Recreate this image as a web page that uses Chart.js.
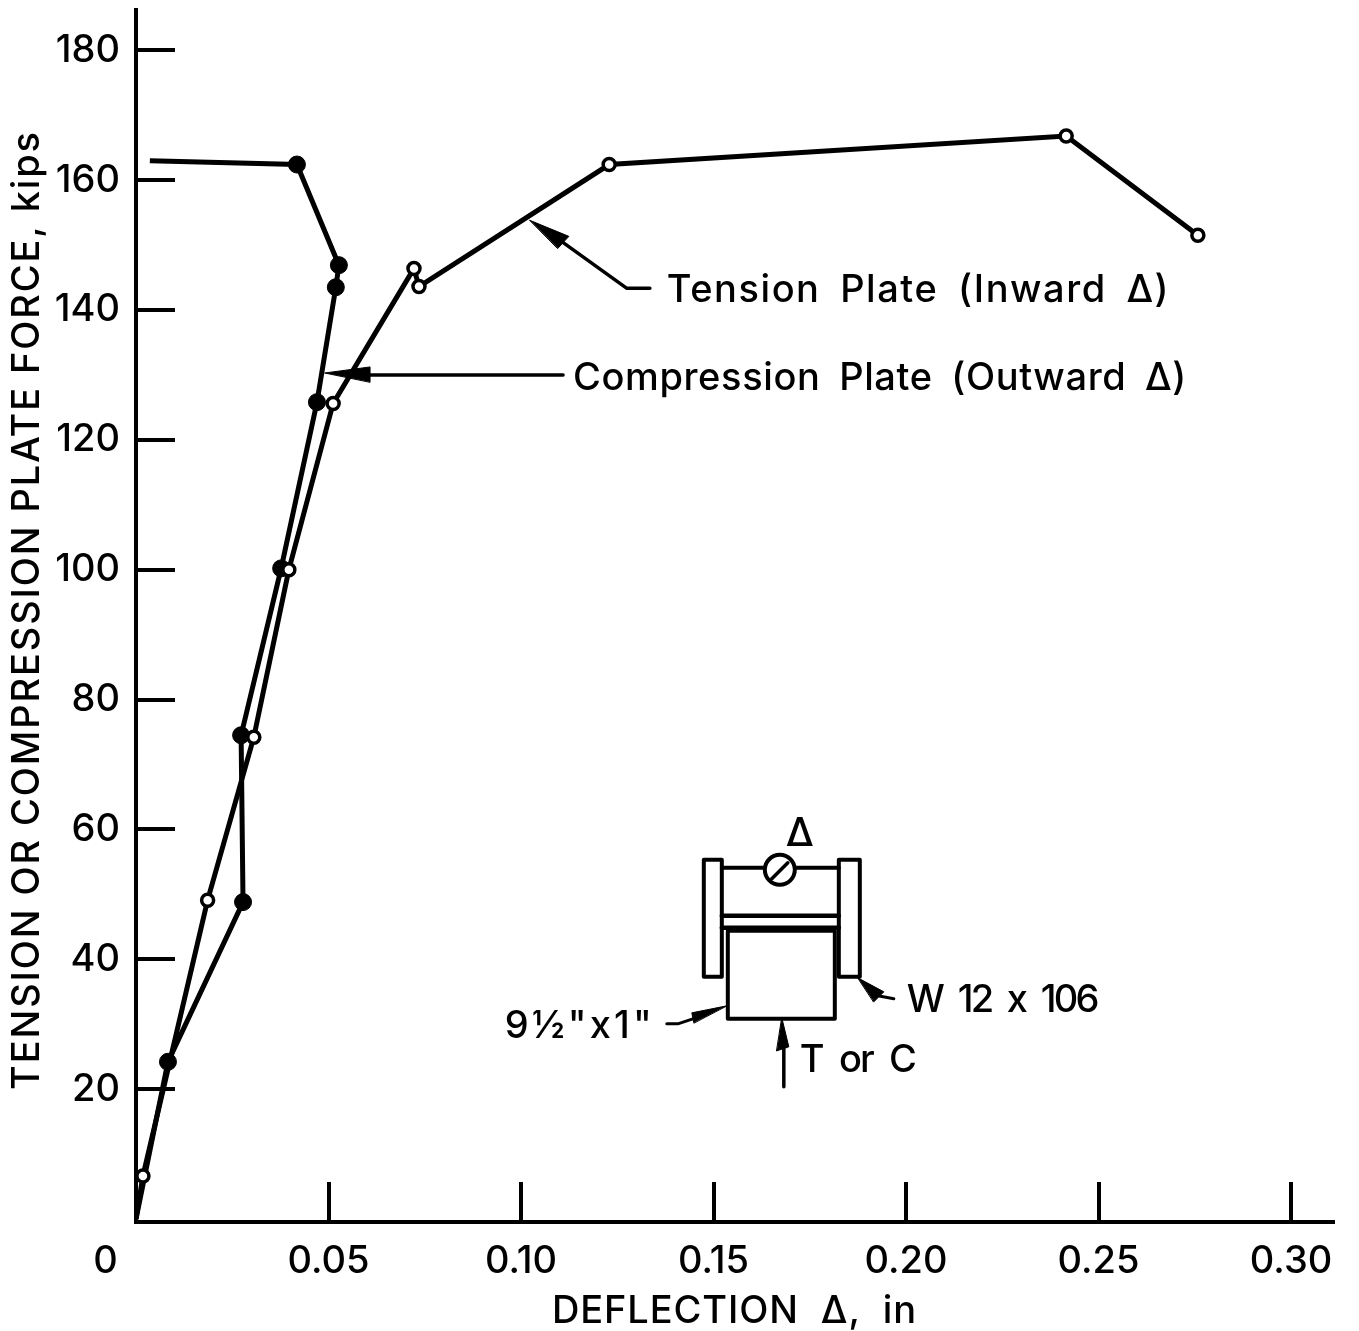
<!DOCTYPE html>
<html>
<head>
<meta charset="utf-8">
<style>html,body{margin:0;padding:0;background:#fff}canvas{display:block}</style>
<script src="https://cdn.jsdelivr.net/npm/chart.js@4/dist/chart.umd.js"></script>
</head>
<body>
<canvas id="c" width="1359" height="1331"></canvas>
<script>
const xTickValues = [0, 0.05, 0.10, 0.15, 0.20, 0.25, 0.30];
const xTickLabels = ['0', '0.05', '0.10', '0.15', '0.20', '0.25', '0.30'];
const yTickValues = [20, 40, 60, 80, 100, 120, 140, 160, 180];

const tensionDeflection = [0, 0.0018, 0.0186, 0.0306, 0.0397, 0.0512, 0.0722, 0.0735, 0.1229, 0.2416, 0.2758];
const tensionForce      = [0, 6.6, 49.1, 74.2, 100.0, 125.6, 146.4, 143.6, 162.4, 166.8, 151.5];
const compressionDeflection = [0, 0.0083, 0.0278, 0.0273, 0.0377, 0.0470, 0.0519, 0.0527, 0.0418, 0.0036];
const compressionForce      = [0, 24.2, 48.8, 74.5, 100.2, 125.8, 143.5, 146.9, 162.4, 163.0];

const xAxisTitle = 'DEFLECTION  \u0394,  in';
const yAxisTitle = ' TENSION OR COMPRESSION PLATE FORCE, kips';

const FONT = 'Inter, "Liberation Sans", sans-serif';
const WEIGHT = 500;
const toPoints = (xs, ys) => xs.map((x, i) => ({x, y: ys[i]}));

function spacedTitle(scale, target) {
  const orig = scale.drawTitle;
  scale.drawTitle = function () {
    const ctx = this.ctx, o = this.options.title;
    ctx.save();
    ctx.font = `${WEIGHT} ${o.font.size}px ${FONT}`;
    ctx.letterSpacing = '0px';
    const n = o.text.trim().length;
    ctx.letterSpacing = ((target - ctx.measureText(o.text.trim()).width) / n).toFixed(2) + 'px';
    orig.call(this);
    ctx.restore();
  };
}

function noScalePadding(s) { s.paddingTop = s.paddingBottom = s.paddingLeft = s.paddingRight = 0; }

const annotations = {
  id: 'annotations',
  beforeDraw(chart) {
    chart.ctx.letterSpacing = '0px';
    if (!chart.$titled) {
      chart.$titled = true;
      spacedTitle(chart.scales.x, 365);
      spacedTitle(chart.scales.y, 960);
    }
  },
  afterDatasetsDraw(chart) {
    const {ctx, scales: {x, y}} = chart;
    const at = (vx, vy) => [x.getPixelForValue(vx), y.getPixelForValue(vy)];
    ctx.save();
    ctx.strokeStyle = '#000'; ctx.fillStyle = '#000';
    ctx.lineCap = 'round'; ctx.lineJoin = 'round';

    const path = (o, pts, w, fill) => {
      ctx.beginPath();
      pts.forEach((p, i) => i ? ctx.lineTo(o[0] + p[0], o[1] + p[1]) : ctx.moveTo(o[0] + p[0], o[1] + p[1]));
      if (fill) { ctx.closePath(); ctx.fill(); }
      if (w) { ctx.lineWidth = w; ctx.stroke(); }
    };
    const text = (o, s, dx, dy, width, size) => {
      ctx.font = `${WEIGHT} ${size || 38}px ${FONT}`;
      ctx.textAlign = 'left'; ctx.textBaseline = 'middle';
      ctx.wordSpacing = '8px';
      ctx.letterSpacing = '0px';
      if (width) ctx.letterSpacing = ((width - ctx.measureText(s).width) / s.length).toFixed(2) + 'px';
      ctx.fillText(s, o[0] + dx, o[1] + dy);
      ctx.letterSpacing = '0px'; ctx.wordSpacing = '0px';
    };

    // Tension plate leader
    const A = at(0.1023, 153.8);
    path(A, [[0, 0], [39, 16], [28, 28]], 1, true);
    path(A, [[33, 22], [97, 68], [120, 68]], 3.5);
    text(A, 'Tension Plate (Inward \u0394)', 137, 70, 503);

    // Compression plate leader
    const B = at(0.0491, 130.3);
    path(B, [[0, 0], [45, -6], [45, 9]], 1, true);
    path(B, [[45, 2], [238, 2]], 3.5);
    text(B, 'Compression Plate (Outward \u0394)', 248, 6, 614);

    // Section sketch
    const S = at(0.168, 53);
    const box = (x0, y0, x1, y1, w) => path(S, [[x0, y0], [x1, y0], [x1, y1], [x0, y1], [x0, y0]], w);
    box(-79, -15, -61, 102, 4);
    box(56, -15, 77, 102, 4);
    path(S, [[-61, -7], [56, -7]], 4);
    path(S, [[-61, 41], [56, 41]], 4.5);
    path(S, [[-61, 53], [56, 53]], 4.5);
    box(-55, 56, 52, 144, 4);
    ctx.beginPath(); ctx.arc(S[0] - 3, S[1] - 5, 15, 0, Math.PI * 2);
    ctx.fillStyle = '#fff'; ctx.fill(); ctx.lineWidth = 4; ctx.stroke(); ctx.fillStyle = '#000';
    path(S, [[-11, 4], [5, -12]], 3.5);
    text(S, '\u0394', 3, -41, 0, 40);
    // W section leader
    path(S, [[75, 103], [101, 117], [91, 127]], 1, true);
    path(S, [[95, 121], [111, 124]], 3);
    text(S, 'W 12 x 106', 124, 126, 190);
    // Plate leader
    path(S, [[-56, 131], [-91, 138], [-89, 148]], 1, true);
    path(S, [[-90, 144], [-105, 149], [-116, 149]], 3);
    text(S, '9\u00BD"x1"', -278, 152, 150);
    // Load leader
    path(S, [[-1, 143], [6, 172], [-6, 176]], 1, true);
    path(S, [[1, 172], [1, 212]], 3.5);
    text(S, 'T or C', 17, 186, 115);
    ctx.restore();
  }
};

new Chart(document.getElementById('c'), {
  type: 'scatter',
  plugins: [annotations],
  data: {
    datasets: [
      {
        label: 'Tension Plate (Inward \u0394)',
        data: toPoints(tensionDeflection, tensionForce),
        showLine: true, borderColor: '#000', borderWidth: 5,
        pointBackgroundColor: '#fff', pointBorderColor: '#000', pointBorderWidth: 3.5,
        pointRadius: c => c.dataIndex === 0 ? 0 : 6
      },
      {
        label: 'Compression Plate (Outward \u0394)',
        data: toPoints(compressionDeflection, compressionForce),
        showLine: true, borderColor: '#000', borderWidth: 5,
        pointBackgroundColor: '#000', pointBorderColor: '#000', pointBorderWidth: 1,
        pointRadius: c => (c.dataIndex === 0 || c.dataIndex === compressionForce.length - 1) ? 0 : 8.5
      }
    ]
  },
  options: {
    responsive: false,
    animation: false,
    layout: {autoPadding: false, padding: {top: 10, right: 26, left: 0, bottom: 0}},
    plugins: {legend: {display: false}, title: {display: false}, tooltip: {enabled: false}},
    scales: {
      x: {
        type: 'linear', position: 'bottom', min: 0, max: 0.3109,
        afterBuildTicks: s => { s.ticks = xTickValues.map(value => ({value})); },
        afterFit: s => { s.height = 109; noScalePadding(s); },
        border: {color: '#000', width: 4},
        grid: {drawOnChartArea: false, drawTicks: true, tickLength: -40, color: '#000', lineWidth: 4},
        ticks: {
          autoSkip: false, maxRotation: 0, minRotation: 0, color: '#000', padding: 57,
          font: {family: FONT, size: 38, weight: WEIGHT},
          callback: (v, i) => i === 0 ? xTickLabels[i] + '      ' : xTickLabels[i]
        },
        title: {display: true, text: xAxisTitle, color: '#000', font: {family: FONT, size: 38, weight: WEIGHT, lineHeight: 1}, padding: {top: 8, bottom: 0}}
      },
      y: {
        type: 'linear', position: 'left', min: -0.47, max: 186.2,
        afterBuildTicks: s => { s.ticks = yTickValues.map(value => ({value})); },
        afterFit: s => { s.width = 136; noScalePadding(s); },
        border: {color: '#000', width: 4},
        grid: {drawOnChartArea: false, drawTicks: true, tickLength: -39, color: '#000', lineWidth: 4},
        ticks: {
          autoSkip: false, color: '#000', padding: 55,
          font: {family: FONT, size: 38, weight: WEIGHT}
        },
        title: {display: true, text: yAxisTitle, color: '#000', font: {family: FONT, size: 38, weight: WEIGHT, lineHeight: 1}, padding: {top: 9, bottom: 0}}
      }
    }
  }
});
</script>
</body>
</html>
